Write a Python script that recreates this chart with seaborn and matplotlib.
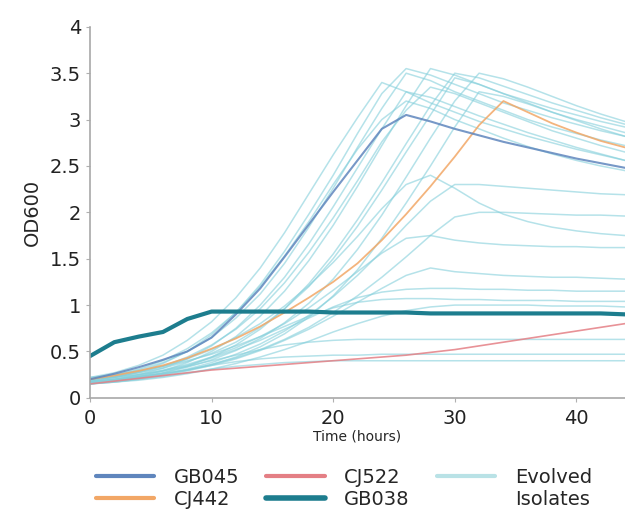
"""
Growth curves (OD600) of ancestral strains and evolved isolates.
"""
import matplotlib
matplotlib.use("Agg")
import matplotlib.pyplot as plt
from matplotlib.lines import Line2D
import seaborn as sns
import pandas as pd

# time grid (hours)
hours = [0, 2, 4, 6, 8, 10, 12, 14, 16, 18, 20, 22, 24, 26, 28, 30, 32, 34, 36, 38, 40, 42, 44]

# named strains
gb045 = [0.20, 0.26, 0.33, 0.41, 0.50, 0.65, 0.90, 1.18, 1.52, 1.87, 2.22, 2.56, 2.90, 3.05, 2.98, 2.90, 2.83, 2.76, 2.70, 2.64, 2.58, 2.53, 2.48]
cj442 = [0.20, 0.24, 0.29, 0.35, 0.43, 0.53, 0.64, 0.77, 0.92, 1.08, 1.25, 1.45, 1.70, 1.98, 2.28, 2.60, 2.94, 3.20, 3.08, 2.96, 2.86, 2.77, 2.70]
cj522 = [0.15, 0.18, 0.21, 0.24, 0.27, 0.30, 0.32, 0.34, 0.36, 0.38, 0.40, 0.42, 0.44, 0.46, 0.49, 0.52, 0.56, 0.60, 0.64, 0.68, 0.72, 0.76, 0.80]
gb038 = [0.45, 0.60, 0.66, 0.71, 0.85, 0.93, 0.93, 0.93, 0.93, 0.93, 0.92, 0.92, 0.92, 0.92, 0.91, 0.91, 0.91, 0.91, 0.91, 0.91, 0.91, 0.91, 0.90]

# evolved isolates
evolved = [
    [0.18, 0.22, 0.28, 0.37, 0.50, 0.68, 0.92, 1.22, 1.58, 1.98, 2.40, 2.85, 3.28, 3.55, 3.48, 3.38, 3.28, 3.18, 3.10, 3.02, 2.95, 2.88, 2.82],
    [0.20, 0.24, 0.30, 0.38, 0.50, 0.65, 0.86, 1.12, 1.45, 1.84, 2.26, 2.70, 3.12, 3.50, 3.42, 3.30, 3.20, 3.10, 3.00, 2.92, 2.85, 2.78, 2.72],
    [0.22, 0.27, 0.35, 0.46, 0.62, 0.82, 1.08, 1.40, 1.78, 2.20, 2.62, 3.02, 3.40, 3.30, 3.18, 3.08, 2.98, 2.90, 2.82, 2.75, 2.68, 2.62, 2.56],
    [0.17, 0.20, 0.25, 0.32, 0.42, 0.56, 0.75, 1.00, 1.30, 1.66, 2.06, 2.48, 2.90, 3.30, 3.24, 3.14, 3.04, 2.95, 2.86, 2.78, 2.70, 2.63, 2.56],
    [0.16, 0.19, 0.23, 0.29, 0.38, 0.50, 0.66, 0.88, 1.15, 1.48, 1.86, 2.28, 2.72, 3.15, 3.55, 3.48, 3.38, 3.28, 3.20, 3.12, 3.05, 2.98, 2.92],
    [0.15, 0.18, 0.22, 0.27, 0.34, 0.44, 0.57, 0.74, 0.96, 1.23, 1.55, 1.92, 2.32, 2.74, 3.15, 3.50, 3.45, 3.36, 3.27, 3.18, 3.10, 3.02, 2.95],
    [0.20, 0.23, 0.27, 0.32, 0.39, 0.48, 0.60, 0.76, 0.96, 1.20, 1.50, 1.85, 2.24, 2.65, 3.05, 3.45, 3.38, 3.28, 3.18, 3.08, 2.99, 2.90, 2.82],
    [0.19, 0.22, 0.27, 0.34, 0.44, 0.57, 0.74, 0.96, 1.24, 1.57, 1.94, 2.34, 2.76, 3.10, 3.35, 3.28, 3.18, 3.08, 2.98, 2.88, 2.80, 2.72, 2.65],
    [0.21, 0.25, 0.31, 0.40, 0.53, 0.70, 0.92, 1.20, 1.53, 1.90, 2.30, 2.68, 3.00, 3.20, 3.12, 3.00, 2.90, 2.80, 2.71, 2.63, 2.56, 2.50, 2.45],
    [0.18, 0.20, 0.23, 0.27, 0.33, 0.41, 0.51, 0.64, 0.81, 1.02, 1.28, 1.60, 1.97, 2.38, 2.80, 3.20, 3.50, 3.44, 3.35, 3.25, 3.15, 3.06, 2.98],
    [0.16, 0.18, 0.21, 0.25, 0.30, 0.36, 0.44, 0.55, 0.69, 0.87, 1.10, 1.38, 1.72, 2.10, 2.50, 2.92, 3.30, 3.25, 3.17, 3.08, 3.00, 2.93, 2.86],
    [0.17, 0.19, 0.22, 0.26, 0.31, 0.38, 0.47, 0.58, 0.72, 0.89, 1.09, 1.32, 1.58, 1.86, 2.12, 2.30, 2.30, 2.28, 2.26, 2.24, 2.22, 2.20, 2.19],
    [0.18, 0.20, 0.23, 0.26, 0.30, 0.36, 0.43, 0.52, 0.63, 0.76, 0.92, 1.10, 1.30, 1.52, 1.75, 1.95, 2.00, 2.00, 1.99, 1.98, 1.97, 1.97, 1.96],
    [0.20, 0.22, 0.25, 0.30, 0.36, 0.44, 0.54, 0.66, 0.80, 0.97, 1.16, 1.36, 1.56, 1.72, 1.75, 1.70, 1.67, 1.65, 1.64, 1.63, 1.63, 1.62, 1.62],
    [0.15, 0.17, 0.20, 0.24, 0.29, 0.35, 0.42, 0.51, 0.62, 0.74, 0.88, 1.03, 1.18, 1.32, 1.40, 1.36, 1.34, 1.32, 1.31, 1.30, 1.30, 1.29, 1.28],
    [0.20, 0.23, 0.28, 0.34, 0.42, 0.52, 0.65, 0.80, 0.99, 1.21, 1.46, 1.74, 2.04, 2.30, 2.40, 2.26, 2.10, 1.98, 1.90, 1.84, 1.80, 1.77, 1.75],
    [0.17, 0.20, 0.24, 0.29, 0.35, 0.43, 0.52, 0.62, 0.74, 0.86, 0.98, 1.08, 1.14, 1.17, 1.18, 1.18, 1.17, 1.17, 1.16, 1.16, 1.15, 1.15, 1.15],
    [0.22, 0.25, 0.29, 0.34, 0.40, 0.47, 0.56, 0.66, 0.77, 0.88, 0.97, 1.03, 1.06, 1.07, 1.07, 1.06, 1.06, 1.05, 1.05, 1.05, 1.04, 1.04, 1.04],
    [0.15, 0.17, 0.19, 0.22, 0.26, 0.31, 0.37, 0.44, 0.52, 0.61, 0.71, 0.80, 0.88, 0.94, 0.98, 1.00, 1.00, 1.00, 1.00, 0.99, 0.99, 0.99, 0.98],
    [0.20, 0.22, 0.25, 0.29, 0.34, 0.40, 0.46, 0.52, 0.57, 0.60, 0.62, 0.63, 0.63, 0.63, 0.63, 0.63, 0.63, 0.63, 0.63, 0.63, 0.63, 0.63, 0.63],
    [0.17, 0.19, 0.22, 0.26, 0.30, 0.35, 0.39, 0.42, 0.44, 0.45, 0.46, 0.46, 0.47, 0.47, 0.47, 0.47, 0.47, 0.47, 0.47, 0.47, 0.47, 0.47, 0.47],
    [0.15, 0.17, 0.20, 0.23, 0.27, 0.31, 0.34, 0.36, 0.38, 0.39, 0.40, 0.40, 0.40, 0.40, 0.40, 0.40, 0.40, 0.40, 0.40, 0.40, 0.40, 0.40, 0.40],
]

strain_names = ["GB045", "CJ442", "CJ522", "GB038"]
strain_values = [gb045, cj442, cj522, gb038]
strain_colors = {"GB045": "#5f86bd", "CJ442": "#f2a766", "CJ522": "#e47f85", "GB038": "#1d7d8e"}
strain_widths = {"GB045": 1.5, "CJ442": 1.3, "CJ522": 1.2, "GB038": 3.0}
evolved_color = "#84cfdb"

sns.set_style("ticks")
plt.rcParams["font.family"] = ["DejaVu Sans"]

# long-form frames
evo_df = pd.DataFrame(
    [{"hours": t, "od": v, "isolate": i} for i, vals in enumerate(evolved) for t, v in zip(hours, vals)]
)
strain_df = pd.DataFrame(
    [{"hours": t, "od": v, "strain": s} for s, vals in zip(strain_names, strain_values) for t, v in zip(hours, vals)]
)

fig = plt.figure(figsize=(6.25, 5.16), dpi=100)
ax = fig.add_axes([0.144, 0.229, 0.856, 0.719])

sns.lineplot(data=evo_df, x="hours", y="od", units="isolate", estimator=None,
             color=evolved_color, alpha=0.6, linewidth=1.1, ax=ax, legend=False)

for s in ["CJ522", "CJ442", "GB045", "GB038"]:
    sub = strain_df[strain_df["strain"] == s]
    sns.lineplot(data=sub, x="hours", y="od", color=strain_colors[s],
                 linewidth=strain_widths[s], ax=ax, legend=False,
                 alpha=0.85 if s != "GB038" else 1.0)

ax.set_xlim(0, 44)
ax.set_ylim(0, 4)
ax.set_xticks([0, 10, 20, 30, 40])
ax.set_yticks([0, 0.5, 1, 1.5, 2, 2.5, 3, 3.5, 4])
ax.set_yticklabels(["0", "0.5", "1", "1.5", "2", "2.5", "3", "3.5", "4"])
ax.tick_params(labelsize=14, length=3, width=0.8, color="#b0b0b0", labelcolor="#222222")
ax.tick_params(axis="x", pad=5)
for side in ["top", "right"]:
    ax.spines[side].set_visible(False)
for side in ["left", "bottom"]:
    ax.spines[side].set_color("#a8a8a8")
    ax.spines[side].set_linewidth(1.2)

ax.set_xlabel("Time (hours)", fontsize=10, labelpad=1)
ax.set_ylabel("OD600", fontsize=14, labelpad=6)

handles = [
    Line2D([], [], color=strain_colors["GB045"], lw=3),
    Line2D([], [], color=strain_colors["CJ442"], lw=3),
    Line2D([], [], color=strain_colors["CJ522"], lw=3),
    Line2D([], [], color=strain_colors["GB038"], lw=4),
    Line2D([], [], color="#b9e2e6", lw=3),
    Line2D([], [], color="none", lw=3),
]
labels = ["GB045", "CJ442", "CJ522", "GB038", "Evolved", "Isolates"]
fig.legend(handles, labels, ncol=3, loc="lower center", bbox_to_anchor=(0.55, -0.02),
           frameon=False, fontsize=14, handlelength=3.0, columnspacing=1.4,
           handletextpad=1.0, labelspacing=0.15)

fig.savefig("out.png", dpi=100)
